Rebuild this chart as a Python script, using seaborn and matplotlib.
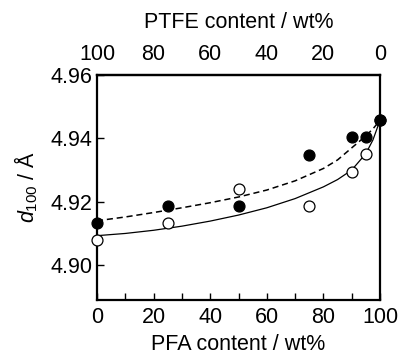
import matplotlib
matplotlib.use("Agg")
import matplotlib.pyplot as plt
import seaborn as sns
import pandas as pd
from matplotlib.ticker import MultipleLocator

sns.set_style("ticks")
plt.rcParams['font.family'] = ['Liberation Sans', 'DejaVu Sans']
plt.rcParams['mathtext.fontset'] = 'custom'
plt.rcParams['mathtext.rm'] = 'Liberation Sans'
plt.rcParams['mathtext.it'] = 'Liberation Sans:italic'
plt.rcParams['text.color'] = 'black'
plt.rcParams['axes.labelcolor'] = 'black'
plt.rcParams['xtick.color'] = 'black'
plt.rcParams['ytick.color'] = 'black'
plt.rcParams['axes.edgecolor'] = 'black'

# Measured points
pfa = [0, 25, 50, 75, 90, 95, 100]
d_filled = [4.9133, 4.9188, 4.9188, 4.9349, 4.9404, 4.9404, 4.9457]
d_open = [4.9079, 4.9133, 4.9241, 4.9188, 4.9295, 4.9350, 4.9457]

# Fitted curves
curve_x = [0, 10, 20, 30, 40, 50, 60, 70, 80, 85, 90, 95, 97.5, 100]
curve_dashed = [4.9140, 4.9152, 4.9166, 4.9181, 4.9197, 4.9215, 4.9237, 4.9266, 4.9305, 4.9332, 4.9370, 4.9408, 4.9430, 4.9457]
curve_solid = [4.9093, 4.9100, 4.9110, 4.9123, 4.9139, 4.9158, 4.9181, 4.9210, 4.9247, 4.9270, 4.9300, 4.9352, 4.9395, 4.9457]

x_ticks = [0, 20, 40, 60, 80, 100]
y_ticks = [4.90, 4.92, 4.94, 4.96]

FS = 15.5
fig = plt.figure(figsize=(4.0, 3.58), dpi=100)
ax = fig.add_axes([0.2425, 0.162, 0.7075, 0.6285])

df_c = pd.DataFrame({"x": curve_x, "dashed": curve_dashed, "solid": curve_solid})
sns.lineplot(data=df_c, x="x", y="dashed", ax=ax, color="black", lw=1.1,
             linestyle=(0, (4, 2.5)), sort=False)
sns.lineplot(data=df_c, x="x", y="solid", ax=ax, color="black", lw=0.9, sort=False)

df_p = pd.DataFrame({"x": pfa, "filled": d_filled, "open": d_open})
sns.scatterplot(data=df_p, x="x", y="open", ax=ax, s=62, facecolor="white",
                edgecolor="black", linewidth=0.9, zorder=3, clip_on=False)
sns.scatterplot(data=df_p, x="x", y="filled", ax=ax, s=62, color="black",
                edgecolor="black", linewidth=0.9, zorder=4, clip_on=False)

ax.set_xlim(0, 100)
ax.set_ylim(4.889, 4.96)
ax.set_xticks(x_ticks)
ax.xaxis.set_minor_locator(MultipleLocator(10))
ax.set_yticks(y_ticks)
ax.set_yticklabels([f"{v:.2f}" for v in y_ticks])
ax.tick_params(axis="both", which="major", direction="in", length=5, width=1,
               labelsize=FS, pad=5, colors="black")
ax.tick_params(axis="x", which="minor", direction="in", length=5, width=1, colors="black")
ax.tick_params(axis="y", which="major", pad=3)
for s in ax.spines.values():
    s.set_linewidth(1.6)
    s.set_color("black")
    s.set_visible(True)
ax.set_xlabel("PFA content / wt%", fontsize=FS, labelpad=4, color="black")
ax.set_ylabel(r"$d_{100}$ / Å", fontsize=FS, labelpad=8, color="black")

top = ax.secondary_xaxis("top", functions=(lambda v: 100 - v, lambda v: 100 - v))
top.set_xticks(x_ticks)
top.tick_params(axis="x", length=0, labelsize=FS, pad=7, colors="black")
top.set_xlabel("PTFE content / wt%", fontsize=FS, labelpad=12, color="black")
top.spines["top"].set_linewidth(1.6)
top.spines["top"].set_color("black")

fig.savefig("out.png", dpi=100)
